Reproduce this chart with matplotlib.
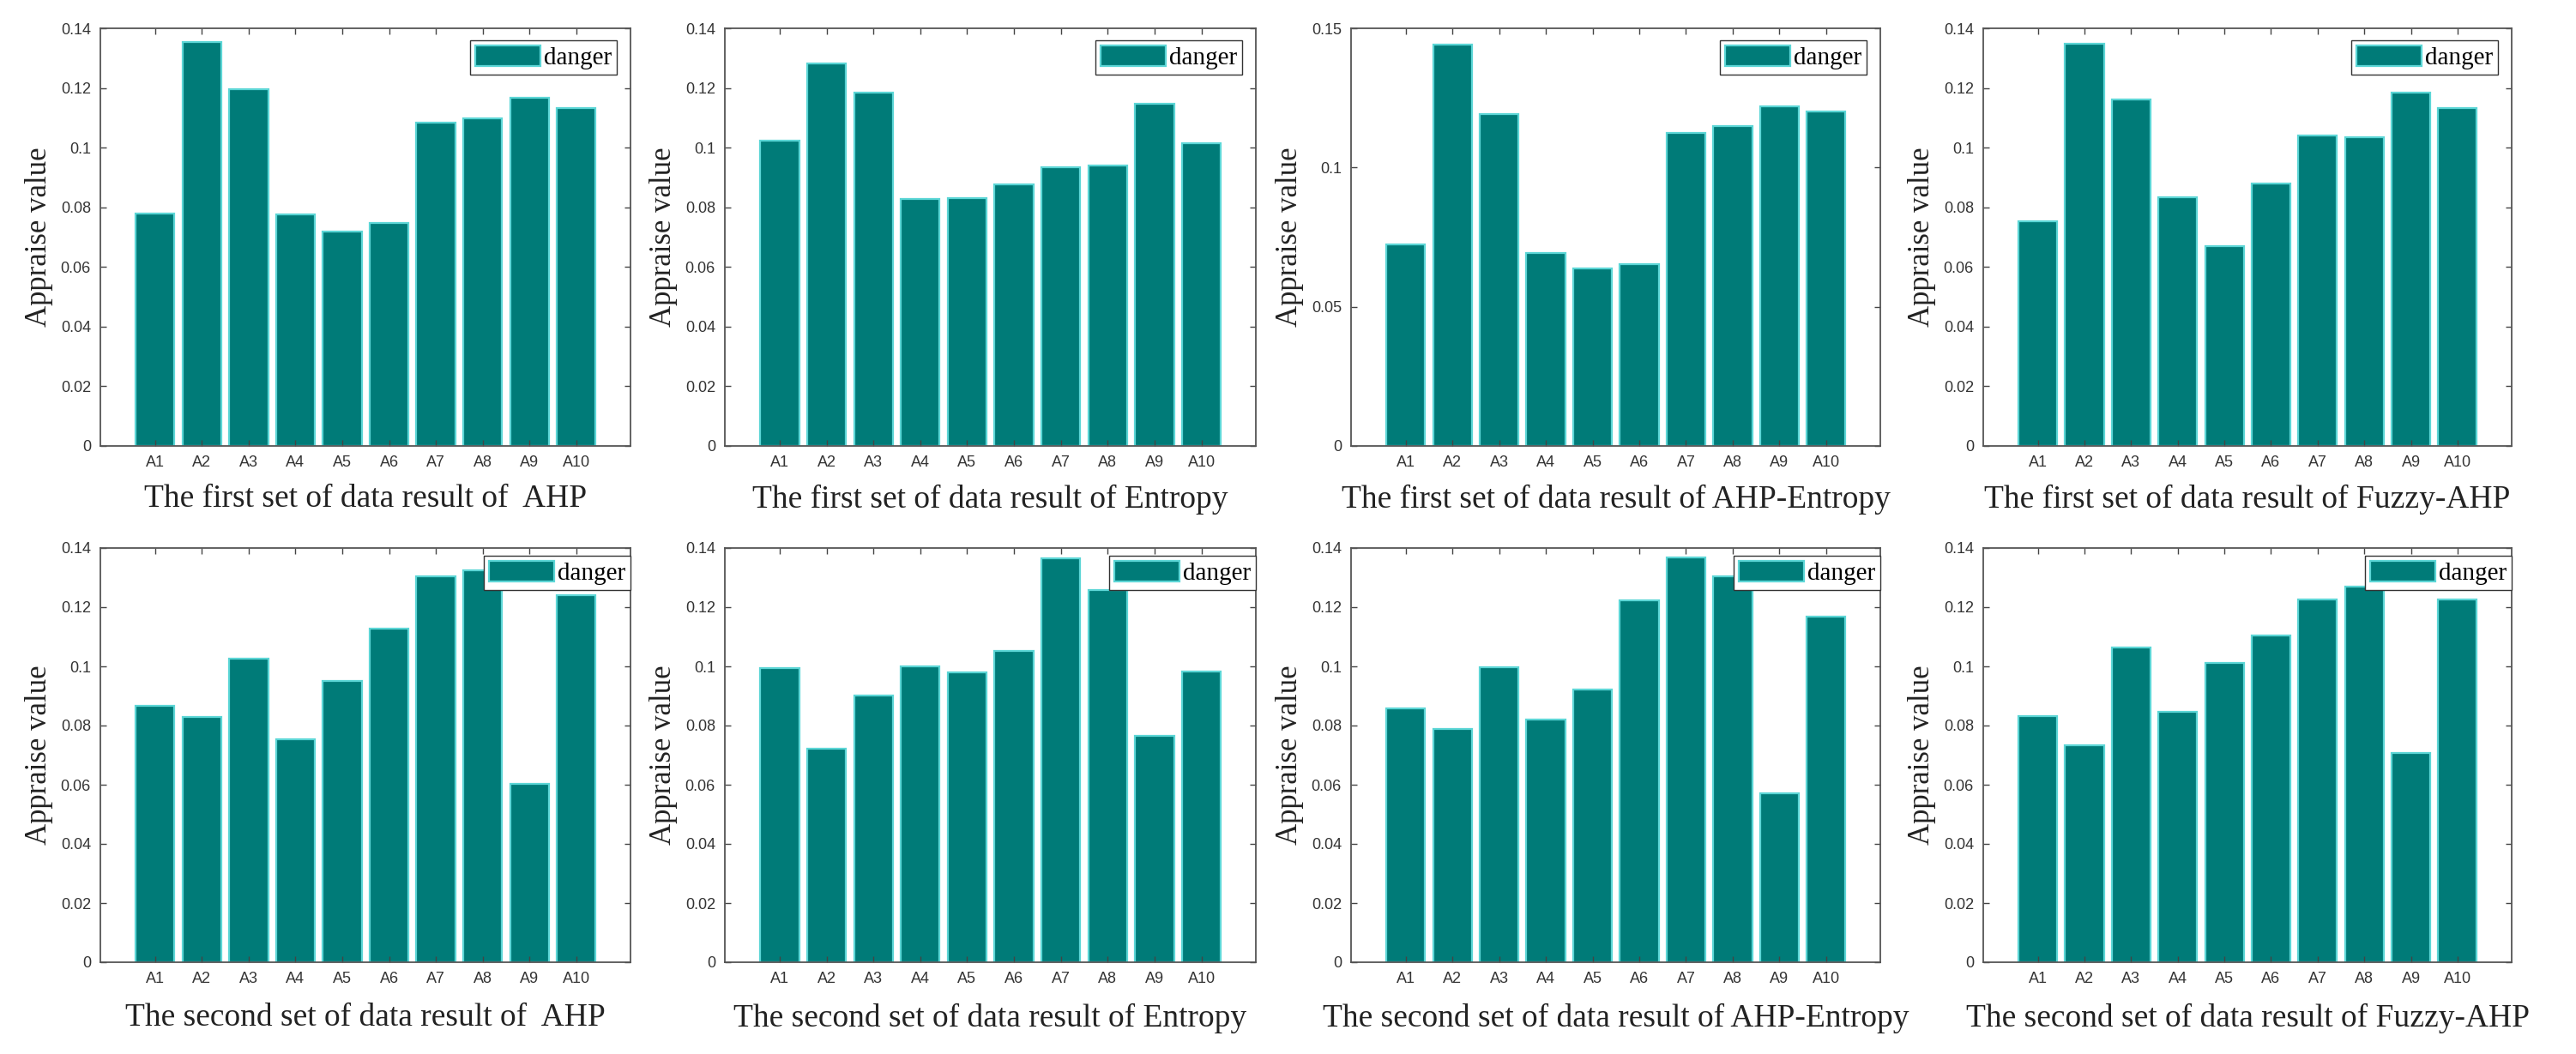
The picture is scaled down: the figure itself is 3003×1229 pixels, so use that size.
import numpy as np
import matplotlib
matplotlib.use("Agg")
import matplotlib.pyplot as plt

# categories
alts = ['A1', 'A2', 'A3', 'A4', 'A5', 'A6', 'A7', 'A8', 'A9', 'A10']

# first set of data
ahp_1 = [0.0779, 0.1354, 0.1195, 0.0777, 0.0719, 0.0748, 0.1083, 0.1097, 0.1166, 0.1133]
entropy_1 = [0.1023, 0.1282, 0.1184, 0.0829, 0.0831, 0.0876, 0.0934, 0.0939, 0.1148, 0.1016]
ahp_entropy_1 = [0.0725, 0.1442, 0.1193, 0.0692, 0.0638, 0.0653, 0.1123, 0.1149, 0.1219, 0.1202]
fuzzy_ahp_1 = [0.0753, 0.1349, 0.1162, 0.0835, 0.0671, 0.0880, 0.1040, 0.1035, 0.1183, 0.1134]

# second set of data
ahp_2 = [0.0866, 0.0829, 0.1025, 0.0755, 0.0951, 0.1127, 0.1303, 0.1326, 0.0604, 0.1241]
entropy_2 = [0.0993, 0.0723, 0.0902, 0.1001, 0.0980, 0.1052, 0.1364, 0.1258, 0.0766, 0.0984]
ahp_entropy_2 = [0.0857, 0.0788, 0.0997, 0.0821, 0.0922, 0.1222, 0.1368, 0.1305, 0.0571, 0.1167]
fuzzy_ahp_2 = [0.0832, 0.0734, 0.1065, 0.0846, 0.1012, 0.1103, 0.1226, 0.1269, 0.0706, 0.1226]

titles = ['The first set of data result of  AHP',
          'The first set of data result of Entropy',
          'The first set of data result of AHP-Entropy',
          'The first set of data result of Fuzzy-AHP',
          'The second set of data result of  AHP',
          'The second set of data result of Entropy',
          'The second set of data result of AHP-Entropy',
          'The second set of data result of Fuzzy-AHP']

ticks_014 = [0, 0.02, 0.04, 0.06, 0.08, 0.1, 0.12, 0.14]
labels_014 = ['0', '0.02', '0.04', '0.06', '0.08', '0.1', '0.12', '0.14']
ticks_015 = [0, 0.05, 0.1, 0.15]
labels_015 = ['0', '0.05', '0.1', '0.15']

series = [ahp_1, entropy_1, ahp_entropy_1, fuzzy_ahp_1,
          ahp_2, entropy_2, ahp_entropy_2, fuzzy_ahp_2]

bar_color = '#007B78'
edge_color = '#5CD6D6'
tick_font = ['Liberation Sans Narrow', 'Liberation Sans', 'DejaVu Sans']
serif_font = ['Liberation Serif', 'DejaVu Serif']

W, H = 3003, 1229
fig = plt.figure(figsize=(W / 100, H / 100), dpi=100)

lefts = [117, 845, 1575, 2312]
widths = [618, 619, 617, 616]
rows = [(33, 520, 582), (639, 1122, 1187)]  # top px, bottom px, title y px

x = np.arange(1, 11)
for i, vals in enumerate(series):
    r = i // 4
    c = i % 4
    top, bot, ty = rows[r]
    ax = fig.add_axes([lefts[c] / W, 1 - bot / H, widths[c] / W, (bot - top) / H])
    ax.bar(x, vals, width=0.83, color=bar_color, edgecolor=edge_color,
           linewidth=1.6, label='danger')
    ax.set_xlim(1 - 1.17, 10 + 1.16)
    if i == 2:
        ax.set_ylim(0, 0.15)
        ax.set_yticks(ticks_015)
        ax.set_yticklabels(labels_015)
    else:
        ax.set_ylim(0, 0.14)
        ax.set_yticks(ticks_014)
        ax.set_yticklabels(labels_014)
    ax.set_xticks(x)
    ax.set_xticklabels(alts)
    ax.tick_params(direction='in', length=5, width=1, color='#444444',
                   top=True, right=True, labelsize=13, labelcolor='#333333', pad=8)
    for lab in ax.get_xticklabels() + ax.get_yticklabels():
        lab.set_family(tick_font)
    for sp in ax.spines.values():
        sp.set_color('#555555')
        sp.set_linewidth(1.3)
    ax.set_ylabel('Appraise value', family=serif_font, fontsize=25, color='#222222',
                  labelpad=6)
    if r == 0:
        anchor = (1 - 16 / widths[c], 1 - 14 / (bot - top))
    else:
        anchor = (1.0, 1 - 9 / (bot - top))
    leg = ax.legend(loc='upper right', bbox_to_anchor=anchor, borderaxespad=0,
                    prop={'family': serif_font, 'size': 21}, fancybox=False,
                    framealpha=1, edgecolor='#333333', handlelength=2.6,
                    handleheight=0.9, handletextpad=0.15, borderpad=0.2)
    leg.get_frame().set_linewidth(1.0)
    fig.text((lefts[c] + widths[c] / 2) / W, 1 - ty / H, titles[i],
             family=serif_font, fontsize=27, color='#222222', ha='center', va='center')

fig.savefig('out.png', dpi=100, facecolor='white')
